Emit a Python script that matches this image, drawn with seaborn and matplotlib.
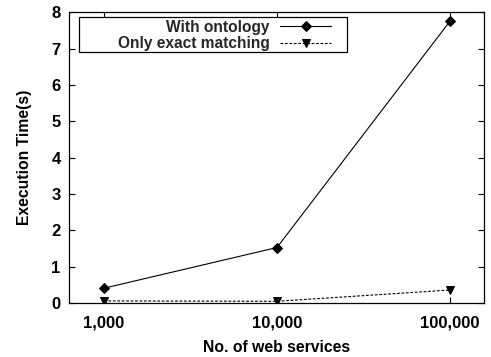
import matplotlib
matplotlib.use("Agg")
import matplotlib.pyplot as plt
import seaborn as sns
import pandas as pd
from matplotlib.ticker import FixedLocator, NullLocator
from matplotlib.patches import Rectangle

services = [1000, 10000, 100000]
tick_labels = ["1,000", "10,000", "100,000"]
with_ontology = [0.41, 1.53, 7.76]
exact_matching = [0.06, 0.05, 0.36]
series_names = ["With ontology", "Only exact matching"]

df = pd.DataFrame({
    "services": services * 2,
    "time": with_ontology + exact_matching,
    "series": [series_names[0]] * 3 + [series_names[1]] * 3,
})

sns.set_theme(style="white")
plt.rcParams["font.family"] = ["Liberation Sans", "DejaVu Sans"]

fig = plt.figure(figsize=(4.91, 3.57), dpi=100)
ax = fig.add_axes([0.1405, 0.151, 0.845, 0.814])

sns.lineplot(data=df, x="services", y="time", hue="series", style="series",
             markers={series_names[0]: "D", series_names[1]: "v"},
             dashes={series_names[0]: "", series_names[1]: (2.5, 1.5)},
             palette={series_names[0]: "black", series_names[1]: "black"},
             markersize=5.5, linewidth=0.8, ax=ax, legend=True, markeredgecolor="black")

ax.set_xscale("log")
ax.set_xlim(628, 157000)
ax.set_ylim(0, 8)
ax.xaxis.set_major_locator(FixedLocator(services))
ax.xaxis.set_minor_locator(NullLocator())
ax.set_xticklabels(tick_labels)
ax.set_yticks(range(0, 9))

for sp in ax.spines.values():
    sp.set_color("black")
    sp.set_linewidth(0.9)

ax.tick_params(axis="both", which="major", direction="in", length=4, width=0.8,
               top=True, right=True, bottom=True, left=True, color="black",
               labelsize=12, pad=6)
ax.tick_params(axis="x", pad=9)
for lab in ax.get_xticklabels() + ax.get_yticklabels():
    lab.set_fontweight("bold")
    lab.set_color("black")

ax.set_xlabel("No. of web services", fontsize=11.3, fontweight="bold", color="black", labelpad=7)
ax.set_ylabel("Execution Time(s)", fontsize=11.3, fontweight="bold", color="black", labelpad=14)

# legend frame drawn separately (wide box, entries pushed to the right)
ax.add_patch(Rectangle((0.024, 0.864), 0.646, 0.121, transform=ax.transAxes,
                       fill=True, facecolor="white", edgecolor="black",
                       linewidth=0.9, zorder=4, clip_on=False))

handles, labels = ax.get_legend_handles_labels()
leg = ax.legend(handles, labels, loc="upper right", bbox_to_anchor=(0.636, 0.98),
                markerfirst=False, frameon=False,
                handlelength=3.3, borderpad=0.1, labelspacing=0.1, handletextpad=0.65,
                prop={"weight": "bold", "size": 11.2}, borderaxespad=0)
leg.set_zorder(5)

fig.savefig("out.png", dpi=100)
